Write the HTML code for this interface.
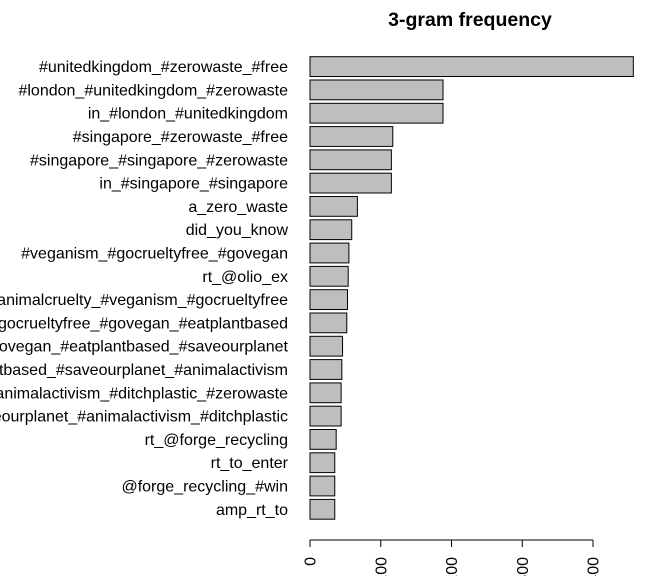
<!DOCTYPE html>
<html><head><meta charset="utf-8"><style>
html,body{margin:0;padding:0;background:#fff;width:672px;height:576px;overflow:hidden}
svg text{font-family:"Liberation Sans",Arial,sans-serif}
</style></head><body>
<svg id="chart" width="672" height="576" viewBox="0 0 672 576" xmlns="http://www.w3.org/2000/svg">
<text x="470" y="26" text-anchor="middle" font-size="19.5" font-weight="bold">3-gram frequency</text>
<g id="bars"></g><g id="labels"></g><g id="axis"></g>
</svg>
<script>
const categories = ["#unitedkingdom_#zerowaste_#free","#london_#unitedkingdom_#zerowaste","in_#london_#unitedkingdom","#singapore_#zerowaste_#free","#singapore_#singapore_#zerowaste","in_#singapore_#singapore","a_zero_waste","did_you_know","#veganism_#gocrueltyfree_#govegan","rt_@olio_ex","#animalcruelty_#veganism_#gocrueltyfree","#gocrueltyfree_#govegan_#eatplantbased","#govegan_#eatplantbased_#saveourplanet","#eatplantbased_#saveourplanet_#animalactivism","#animalactivism_#ditchplastic_#zerowaste","#saveourplanet_#animalactivism_#ditchplastic","rt_@forge_recycling","rt_to_enter","@forge_recycling_#win","amp_rt_to"];
const values = [457,188,188,117,115,115,67,59,55,54,53,52,46,45,44,44,37,35,35,35];
const ticks = [0,100,200,300,400];
const NS="http://www.w3.org/2000/svg";
const x0=310, pxPer=70.75/100, y0=56.7, step=23.3, bh=19.8;
const xs=v=>x0+v*pxPer, ys=i=>y0+i*step;
const gb=document.getElementById('bars'), gl=document.getElementById('labels'), ga=document.getElementById('axis');
function mk(t,a){const e=document.createElementNS(NS,t);for(const k in a)e.setAttribute(k,a[k]);return e;}
categories.forEach((c,i)=>{
  const r=mk('rect',{x:x0,y:ys(i),width:xs(values[i])-x0,height:bh,fill:'#bebebe',stroke:'#000','stroke-width':1});
  
  
  gb.appendChild(r);
  const t=mk('text',{x:288,y:ys(i)+bh/2+5.5,'text-anchor':'end','font-size':16});
  t.textContent=c;
  
  
  gl.appendChild(t);
});
const ay=540;
const ln=mk('line',{x1:xs(ticks[0]),x2:xs(ticks[ticks.length-1]),y1:ay,y2:ay,stroke:'#000'});


ga.appendChild(ln);
ticks.forEach(v=>{
  const tk=mk('line',{x1:xs(v),x2:xs(v),y1:ay,y2:ay+7,stroke:'#000'});
  
  
  ga.appendChild(tk);
  const t=mk('text',{x:0,y:0,'text-anchor':'end','font-size':16,transform:`translate(${xs(v)+5.5},${ay+17}) rotate(-90)`});
  t.textContent=String(v);
  
  
  ga.appendChild(t);
});
</script>
</body></html>
